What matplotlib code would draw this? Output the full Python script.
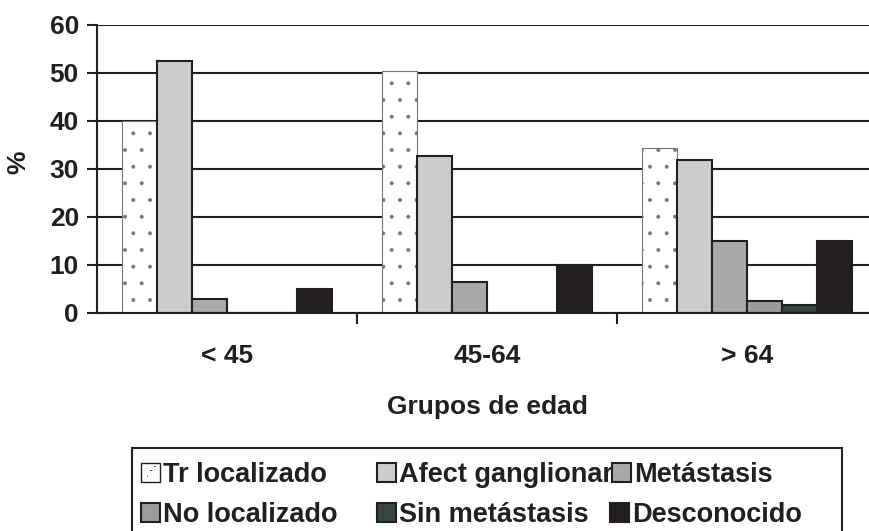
import matplotlib
matplotlib.use("Agg")
import matplotlib.pyplot as plt
from matplotlib.patches import Rectangle
import numpy as np

plt.rcParams['font.family'] = ['Liberation Sans', 'DejaVu Sans']
plt.rcParams['font.weight'] = 'bold'
plt.rcParams['hatch.linewidth'] = 0.4

groups = ["< 45", "45-64", "> 64"]
series = ["Tr localizado", "Afect ganglionar", "Metástasis",
          "No localizado", "Sin metástasis", "Desconocido"]
values = {
    "Tr localizado":    [40.0, 50.5, 34.3],
    "Afect ganglionar": [52.6, 32.8, 31.9],
    "Metástasis":       [3.0, 6.5, 14.9],
    "No localizado":    [0.0, 0.0, 2.6],
    "Sin metástasis":   [0.0, 0.0, 1.7],
    "Desconocido":      [4.9, 10.0, 14.9],
}
yticks = [0, 10, 20, 30, 40, 50, 60]

colors = {
    "Tr localizado": "white",
    "Afect ganglionar": "#cccccc",
    "Metástasis": "#a8aaa9",
    "No localizado": "#9a9b9c",
    "Sin metástasis": "#364641",
    "Desconocido": "#231f20",
}
DARK = "#231f20"

W, H = 870, 531
fig = plt.figure(figsize=(W / 100, H / 100), dpi=100)
ax = fig.add_axes([97 / W, (H - 313) / H, 780 / W, 288 / H])

x = np.arange(len(groups))
bw = 35 / 260
for i, s in enumerate(series):
    offs = (i - 2.5) * bw
    if s == "Tr localizado":
        ax.bar(x + offs, values[s], width=bw, color="white", edgecolor="#777777",
               linewidth=0.8, hatch=".", zorder=3)
    else:
        ax.bar(x + offs, values[s], width=bw, color=colors[s], edgecolor=DARK,
               linewidth=1.5, zorder=3)

ax.set_xlim(-0.5, 2.5)
ax.set_ylim(0, 60)
ax.set_yticks(yticks)
ax.set_yticklabels([str(v) for v in yticks], fontsize=19, fontweight='bold', color=DARK)
ax.set_xticks(x)
ax.set_xticklabels(groups, fontsize=19, fontweight='bold', color=DARK)
ax.set_xticks([0.5, 1.5], minor=True)
ax.tick_params(axis='x', which='major', length=0, pad=22)
ax.tick_params(axis='x', which='minor', length=8, width=1.5, color=DARK, direction='out')
ax.tick_params(axis='y', length=7, width=1.5, color=DARK, pad=6)

ax.yaxis.grid(True, color=DARK, linewidth=1.5, zorder=0)
ax.set_axisbelow(True)
for sp in ['top', 'right']:
    ax.spines[sp].set_visible(False)
for sp in ['left', 'bottom']:
    ax.spines[sp].set_color(DARK)
    ax.spines[sp].set_linewidth(1.5)
    ax.spines[sp].set_zorder(4)

ax.set_xlabel("Grupos de edad", fontsize=19, fontweight='bold', color=DARK, labelpad=20)
fig.text(18 / W, (H - 162) / H, "%", rotation=90, fontsize=19, fontweight='bold',
         color=DARK, ha='center', va='center')

# legend drawn manually
def fx(px):
    return px / W

def fy(py):
    return (H - py) / H

fig.add_artist(Rectangle((fx(132), fy(545)), fx(842) - fx(132), fy(448) - fy(545),
                         transform=fig.transFigure, facecolor='white',
                         edgecolor=DARK, linewidth=1.5, zorder=5))
order = [["Tr localizado", "Afect ganglionar", "Metástasis"],
         ["No localizado", "Sin metástasis", "Desconocido"]]
col_handle_x = [141, 377, 612]
row_base_y = [482, 522]
hs = 19
for r, row in enumerate(order):
    for c, s in enumerate(row):
        hx = col_handle_x[c]
        if c == 2 and r == 1:
            hx = 610
        by = row_base_y[r]
        if s == "Tr localizado":
            fig.add_artist(Rectangle((fx(hx), fy(by)), hs / W, hs / H,
                                     transform=fig.transFigure, facecolor='white',
                                     edgecolor=DARK, linewidth=1.0, zorder=6))
            for dx, dy in [(6, 5), (9, 11), (13, 15)]:
                fig.add_artist(Rectangle((fx(hx + dx), fy(by - dy)), 1.5 / W, 1.5 / H,
                                         transform=fig.transFigure, facecolor='#555555',
                                         edgecolor='none', zorder=7))
        else:
            fig.add_artist(Rectangle((fx(hx), fy(by)), hs / W, hs / H,
                                     transform=fig.transFigure, facecolor=colors[s],
                                     edgecolor=DARK, linewidth=1.5, zorder=6))
        fig.text(fx(hx + hs + 3), fy(by), s, fontsize=19.5, fontweight='bold',
                 color=DARK, ha='left', va='baseline', zorder=8)

fig.savefig("out.png", dpi=100)
